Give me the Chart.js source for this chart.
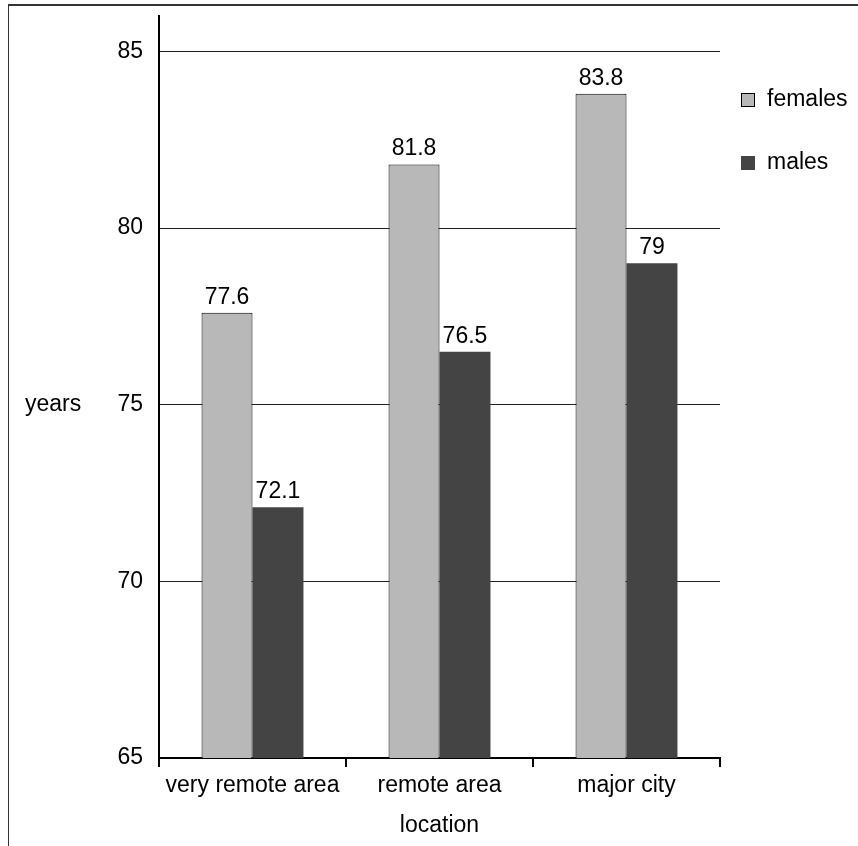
<!DOCTYPE html>
<html>
<head>
<meta charset="utf-8">
<script src="https://cdn.jsdelivr.net/npm/chart.js@4"></script>
<style>
  body { margin: 0; background: #fff; }
  #frame {
    position: absolute;
    left: 8px;
    top: 4px;
    width: 900px;
    height: 900px;
    border-left: 1px solid #333;
    border-top: 2px solid #333;
  }
  #chart { position: absolute; left: 0; top: 0; }
</style>
</head>
<body>
<div id="frame"></div>
<canvas id="chart" width="858" height="846"></canvas>
<script>
// Chart data
const locations = ['very remote area', 'remote area', 'major city'];
const females = [77.6, 81.8, 83.8];
const males = [72.1, 76.5, 79];
const yTicks = [65, 70, 75, 80, 85];

const FONT = "'Liberation Sans', Arial, sans-serif";

// Value labels above each bar
const valueLabels = {
  id: 'valueLabels',
  afterDatasetsDraw(chart) {
    const ctx = chart.ctx;
    ctx.save();
    ctx.font = `23px ${FONT}`;
    ctx.fillStyle = '#000';
    ctx.textAlign = 'center';
    ctx.textBaseline = 'alphabetic';
    chart.data.datasets.forEach((ds, i) => {
      chart.getDatasetMeta(i).data.forEach((bar, j) => {
        ctx.fillText(String(ds.data[j]), bar.x, bar.y - 9);
      });
    });
    ctx.restore();
  }
};

// Legend on the right and horizontal y title
const sideText = {
  id: 'sideText',
  afterDraw(chart) {
    const ctx = chart.ctx;
    const y = chart.scales.y;
    ctx.save();
    ctx.font = `23px ${FONT}`;
    ctx.fillStyle = '#000';
    ctx.textBaseline = 'middle';
    ctx.textAlign = 'left';
    const mid = (y.getPixelForValue(65) + y.getPixelForValue(85)) / 2;
    ctx.fillText('years', 25, mid);

    chart.data.datasets.forEach((ds, i) => {
      const cy = 100 + i * 63;
      ctx.fillStyle = ds.backgroundColor;
      ctx.fillRect(741, cy - 7, 14, 14);
      if (ds.borderWidth) {
        ctx.strokeStyle = '#000';
        ctx.lineWidth = 1;
        ctx.strokeRect(741.5, cy - 6.5, 13, 13);
      }
      ctx.fillStyle = '#000';
      ctx.fillText(ds.label, 767, cy);
    });
    ctx.restore();
  }
};

new Chart(document.getElementById('chart'), {
  type: 'bar',
  data: {
    labels: locations,
    datasets: [
      {
        label: 'females',
        data: females,
        backgroundColor: '#b8b8b8',
        borderColor: '#000',
        borderWidth: { top: 1, left: 1, right: 1, bottom: 0 }
      },
      {
        label: 'males',
        data: males,
        backgroundColor: '#444444',
        borderWidth: 0
      }
    ]
  },
  options: {
    responsive: false,
    devicePixelRatio: 1,
    animation: false,
    categoryPercentage: 0.545,
    barPercentage: 1,
    layout: { padding: { left: 0, top: 16, right: 138, bottom: 0 } },
    plugins: {
      legend: { display: false },
      tooltip: { enabled: false }
    },
    scales: {
      x: {
        afterFit(scale) {
          scale.height = 88;
          scale.paddingLeft = 0;
          scale.paddingRight = 0;
        },
        grid: {
          offset: true,
          drawOnChartArea: false,
          drawTicks: true,
          tickLength: 9,
          color: '#000',
          lineWidth: 2
        },
        border: { display: true, color: '#000', width: 2 },
        ticks: {
          color: '#000',
          padding: 5,
          font: { family: FONT, size: 23 }
        },
        title: {
          display: true,
          text: 'location',
          color: '#000',
          font: { family: FONT, size: 23 },
          padding: { top: 0, bottom: 7 }
        }
      },
      y: {
        min: 65,
        max: 86,
        afterFit(scale) {
          scale.width = 159;
          scale.paddingTop = 0;
          scale.paddingBottom = 0;
        },
        afterBuildTicks(scale) {
          scale.ticks = yTicks.map(v => ({ value: v }));
        },
        grid: {
          drawTicks: false,
          color: (c) => c.tick && c.tick.value === 65 ? 'rgba(0,0,0,0)' : '#222',
          lineWidth: 1
        },
        border: { display: true, color: '#000', width: 2 },
        ticks: {
          color: '#000',
          padding: 16,
          font: { family: FONT, size: 23 }
        }
      }
    }
  },
  plugins: [valueLabels, sideText]
});
</script>
</body>
</html>
